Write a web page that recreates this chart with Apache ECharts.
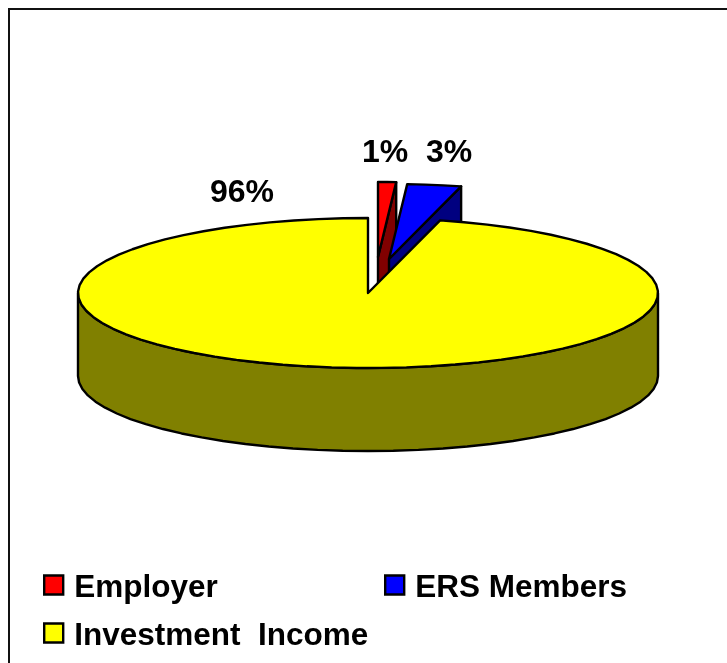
<!DOCTYPE html>
<html>
<head>
<meta charset="utf-8">
<style>html,body{margin:0;padding:0;background:#fff}#chart{width:727px;height:663px}</style>
<script src="https://cdn.jsdelivr.net/npm/echarts@6/dist/echarts.min.js"></script>
</head>
<body>
<div id="chart"></div>
<script>
// Funding sources, share of total in percent
const categories = ['Employer', 'ERS Members', 'Investment  Income'];
const shares = [1, 3, 96];

const faceColors = ['#ff0000', '#0000ff', '#ffff00'];
const sideColors = ['#800000', '#000080', '#808000'];

// Projection of the disc and how far each slice is pulled out
const disc = { cx: 368, cy: 293, rx: 290, ry: 75, depth: 83 };
const pullOut = [[10, -36], [21, -34], [0, 0]];
const labelAt = [[385, 153], [449, 153], [242, 193]];
const font = 'bold 32px "Liberation Sans", Arial, sans-serif';
const edge = { stroke: '#000', lineWidth: 2.4, lineJoin: 'round' };

const total = shares.reduce((a, b) => a + b, 0);

function sliceAngles(i) {
  const before = shares.slice(0, i).reduce((a, b) => a + b, 0);
  return [before / total * 360, (before + shares[i]) / total * 360];
}

function rimPoint(deg, ox, oy, drop) {
  const t = deg * Math.PI / 180;
  return [disc.cx + ox + disc.rx * Math.sin(t), disc.cy + oy - disc.ry * Math.cos(t) + drop];
}

// The rim is a short-segment polyline
function arc(from, to, ox, oy, drop) {
  const pts = [];
  const n = Math.max(2, Math.ceil((to - from) / 5));
  for (let k = 0; k <= n; k++) pts.push(rimPoint(from + (to - from) * k / n, ox, oy, drop));
  return pts;
}

function polygon(points, fill) {
  return { type: 'polygon', shape: { points }, style: Object.assign({ fill }, edge) };
}

function renderSlice(i) {
  return function (params, api) {
    const share = api.value(0);
    const [start, end] = sliceAngles(i);
    const [ox, oy] = pullOut[i];
    const apex = [disc.cx + ox, disc.cy + oy];
    const children = [];

    // Cut face on the clockwise side, visible when it turns towards the viewer
    if (Math.sin(end * Math.PI / 180) > 0) {
      const rim = rimPoint(end, ox, oy, 0);
      children.push(polygon([
        apex, rim, [rim[0], rim[1] + disc.depth], [apex[0], apex[1] + disc.depth]
      ], sideColors[i]));
    }

    // Outer wall: only the front half of the rim shows
    const wallFrom = Math.max(start, 90), wallTo = Math.min(end, 270);
    if (wallTo > wallFrom) {
      const upper = arc(wallFrom, wallTo, ox, oy, 0);
      const lower = arc(wallFrom, wallTo, ox, oy, disc.depth).reverse();
      children.push(polygon(upper.concat(lower), sideColors[i]));
    }

    children.push(polygon([apex].concat(arc(start, end, ox, oy, 0)), faceColors[i]));
    children.push({
      type: 'text',
      style: {
        x: labelAt[i][0], y: labelAt[i][1],
        text: share + '%', font, fill: '#000',
        align: 'center', verticalAlign: 'middle'
      }
    });
    return { type: 'group', children };
  };
}

const legendAt = [[43, 572], [384, 572], [43, 620]];
const legendFont = {
  fontFamily: '"Liberation Sans", Arial, sans-serif',
  fontWeight: 'bold', fontSize: 31.5, color: '#000'
};

const chart = echarts.init(document.getElementById('chart'), null, { renderer: 'canvas' });
chart.setOption({
  animation: false,
  backgroundColor: '#fff',
  legend: categories.map((name, i) => ({
    data: [name],
    left: legendAt[i][0],
    top: legendAt[i][1],
    padding: 0,
    itemWidth: 19,
    itemHeight: 19,
    itemGap: 0,
    icon: 'rect',
    selectedMode: false,
    itemStyle: { borderColor: '#000', borderWidth: 2.4 },
    formatter: '{t|{name}}',
    textStyle: {
      ...legendFont,
      padding: [0, 0, 0, 6],
      rich: { t: { ...legendFont, padding: [6, 0, 0, 0] } }
    }
  })),
  graphic: [{
    // Chart frame: open at the right and bottom
    type: 'polyline',
    silent: true,
    shape: { points: [[9, 663], [9, 9], [727, 9]] },
    style: { fill: 'none', stroke: '#111', lineWidth: 2 }
  }],
  series: categories.map((name, i) => ({
    type: 'custom',
    name,
    coordinateSystem: 'none',
    itemStyle: { color: faceColors[i] },
    data: [[shares[i]]],
    renderItem: renderSlice(i)
  }))
});
</script>
</body>
</html>
